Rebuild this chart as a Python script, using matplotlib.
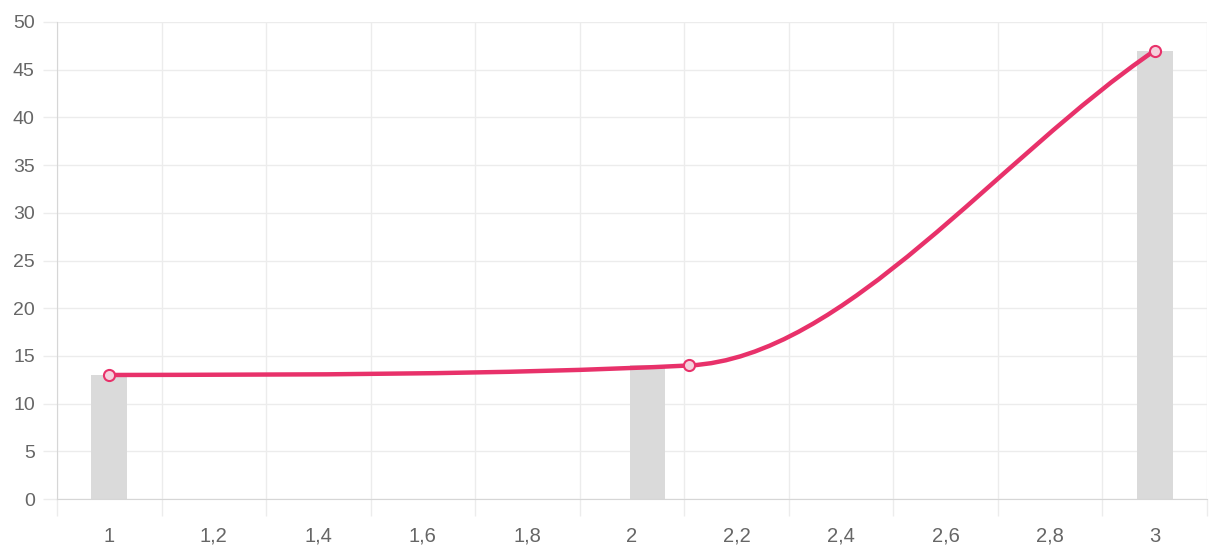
import numpy as np
import matplotlib
matplotlib.use("Agg")
import matplotlib.pyplot as plt
from matplotlib.path import Path
from matplotlib.patches import PathPatch

# ---------- data ----------
bar_x = [1.0, 2.03, 3.0]
bar_y = [13, 14, 47]
line_x = [1.0, 2.11, 3.0]
line_y = [13, 14, 47]
x_ticks = [1.0, 1.2, 1.4, 1.6, 1.8, 2.0, 2.2, 2.4, 2.6, 2.8, 3.0]
x_labels = ["1", "1,2", "1,4", "1,6", "1,8", "2", "2,2", "2,4", "2,6", "2,8", "3"]

line_color = "#e8316a"
bar_color = "#dadada"
grid_color = "#ececec"
axis_color = "#d6d6d6"
text_color = "#666666"

plt.rcParams["font.family"] = ["Liberation Sans", "DejaVu Sans"]

fig = plt.figure(figsize=(12.13, 5.47), dpi=100)
ax = fig.add_axes([57 / 1213, 48 / 547, 1150 / 1213, 477 / 547])

ax.set_xlim(0.9, 3.1)
ax.set_ylim(0, 50)

# bars
ax.bar(bar_x, bar_y, width=0.068, color=bar_color, zorder=2)


# ---------- monotone cubic line (like chart.js "monotone") ----------
def monotone_path(xs, ys):
    xs = np.asarray(xs, float)
    ys = np.asarray(ys, float)
    n = len(xs)
    d = np.diff(ys) / np.diff(xs)
    m = np.zeros(n)
    m[0] = d[0]
    m[-1] = d[-1]
    for i in range(1, n - 1):
        m[i] = 0 if d[i - 1] * d[i] <= 0 else (d[i - 1] + d[i]) / 2
    for i in range(n - 1):
        if d[i] == 0:
            m[i] = m[i + 1] = 0
            continue
        a = m[i] / d[i]
        b = m[i + 1] / d[i]
        s = a * a + b * b
        if s > 9:
            t = 3 / np.sqrt(s)
            m[i] = t * a * d[i]
            m[i + 1] = t * b * d[i]
    verts = [(xs[0], ys[0])]
    codes = [Path.MOVETO]
    for i in range(n - 1):
        dx = (xs[i + 1] - xs[i]) / 3
        verts += [(xs[i] + dx, ys[i] + m[i] * dx),
                  (xs[i + 1] - dx, ys[i + 1] - m[i + 1] * dx),
                  (xs[i + 1], ys[i + 1])]
        codes += [Path.CURVE4] * 3
    return Path(verts, codes)


patch = PathPatch(monotone_path(line_x, line_y), facecolor="none",
                  edgecolor=line_color, lw=3.2, zorder=3, capstyle="round")
ax.add_patch(patch)
ax.plot(line_x, line_y, "o", ms=8, mfc="#f5d0dc", mec=line_color, mew=1.5, zorder=4)

# ---------- axes / grid ----------
ax.set_yticks(np.arange(0, 51, 5))
ax.set_xticks(x_ticks, x_labels)
ax.set_xticks(np.arange(0.9, 3.11, 0.2), minor=True)

ax.grid(axis="y", color=grid_color, lw=1, zorder=0)
ax.grid(axis="x", which="minor", color=grid_color, lw=1, zorder=0)
ax.grid(axis="x", which="major", visible=False)

ax.tick_params(axis="y", length=10, width=1, color=grid_color, labelsize=14,
               labelcolor=text_color, pad=6)
ax.tick_params(axis="x", which="major", length=0, labelsize=14.5,
               labelcolor=text_color, pad=20)
ax.tick_params(axis="x", which="minor", length=12, width=1, color=grid_color)

for side in ["top", "right"]:
    ax.spines[side].set_visible(False)
ax.spines["left"].set_color(axis_color)
ax.spines["bottom"].set_color(axis_color)

fig.savefig("out.png", dpi=100)
